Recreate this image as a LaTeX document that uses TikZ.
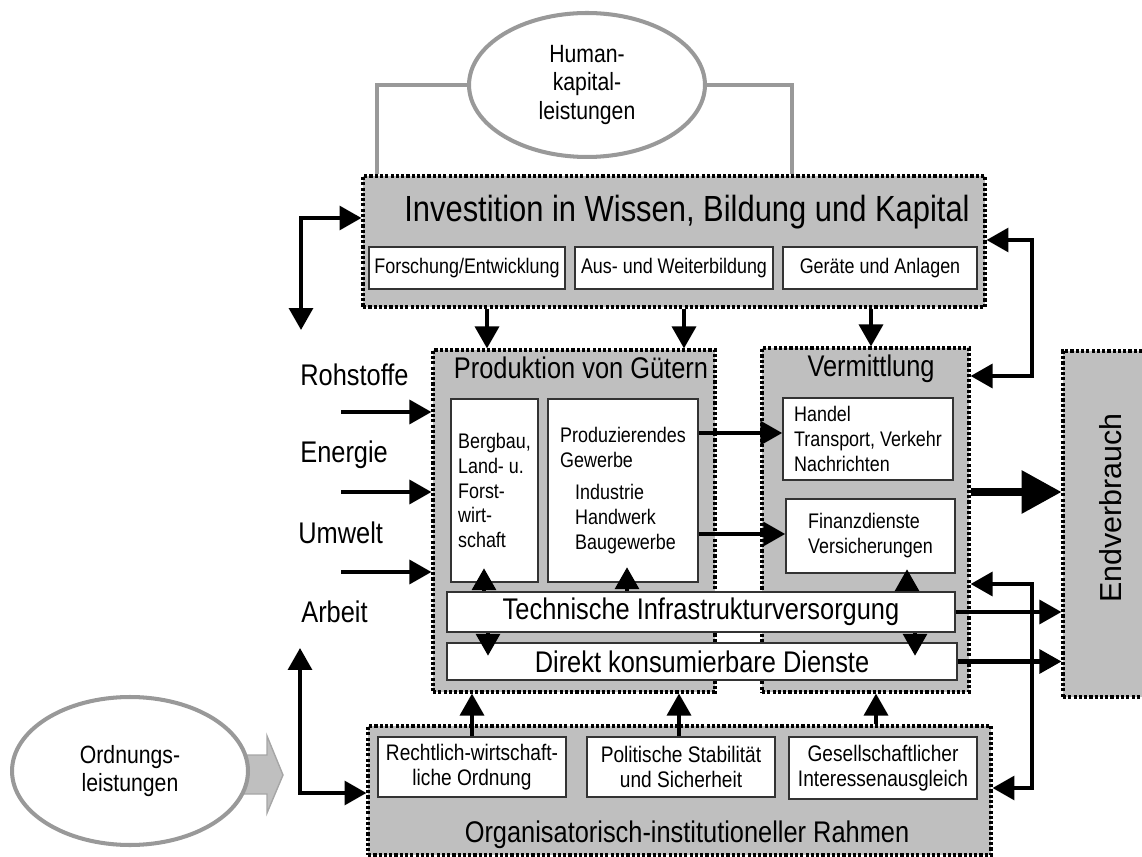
\documentclass[tikz,border=0pt]{standalone}
\usepackage{fontspec}
\setmainfont{Liberation Sans}[FakeStretch=0.85]
\newfontfamily\widefont{Liberation Sans}
\usetikzlibrary{arrows.meta,shapes.geometric}

\begin{document}
\begin{tikzpicture}[x=0.02cm,y=-0.02cm,>={Triangle[length=12.5pt,width=13.5pt]},
  frame node/.style={draw,fill=black!25,line width=1.8pt,dash pattern=on 1.8pt off 1.2pt,inner sep=0pt},
  box node/.style={draw=black!80,fill=white,line width=0.9pt,inner sep=0pt,align=center,font=\fontsize{12pt}{14.2pt}\selectfont},
  order node/.style={box node,font=\fontsize{12.8pt}{14.2pt}\selectfont},
  bar node/.style={box node,font=\fontsize{17pt}{19pt}\selectfont},
  head node/.style={inner sep=0pt,font=\fontsize{17pt}{19pt}\selectfont},
  oval node/.style={ellipse,draw=black!40,line width=2.3pt,fill=white,inner sep=0pt,align=center,font=\fontsize{14.2pt}{16.4pt}\selectfont},
  flow/.style={->,line width=2.3pt},
  both/.style={<->,line width=2.3pt},
  big flow/.style={-{Triangle[length=22.7pt,width=23.8pt]},line width=4pt},
  gray line/.style={draw=black!40,line width=2.3pt}]
  \useasboundingbox (0,0) rectangle (1142,857);

  % Investition
  \node[frame node,minimum width=12.44cm,minimum height=2.62cm] (inv) at (674,241.5) {};
  \node[head node,font=\fontsize{20.7pt}{23pt}\selectfont] (invtitle) at (687,212) {Investition in Wissen, Bildung und Kapital};
  \node[box node,minimum width=3.92cm,minimum height=0.84cm] (fe) at (467,268) {Forschung/Entwicklung};
  \node[box node,minimum width=3.96cm,minimum height=0.84cm] (aw) at (674,268) {Aus- und Weiterbildung};
  \node[box node,minimum width=3.88cm,minimum height=0.84cm] (ga) at (880,268) {Geräte und Anlagen};

  \node[oval node,minimum width=4.72cm,minimum height=2.88cm] (hk) at (587,85) {Human-\\kapital-\\leistungen};
  \draw[gray line] (hk.west) -| (inv.north -| 377,0);
  \draw[gray line] (hk.east) -| (inv.north -| 792,0);

  % Produktion, Vermittlung, Endverbrauch
  \node[frame node,minimum width=5.64cm,minimum height=6.84cm] (prod) at (574,521) {};
  \node[head node] (prodtitle) at (581,368) {Produktion von Gütern};
  \node[frame node,minimum width=4.14cm,minimum height=6.88cm] (verm) at (865.5,520) {};
  \node[head node] (vermtitle) at (871,369) {Vermittlung};
  \node[frame node,minimum width=1.76cm,minimum height=6.92cm] (end) at (1107,524) {};
  \node[head node,font=\widefont\fontsize{17.3pt}{19pt}\selectfont,rotate=90] (endtitle) at (1111,508) {Endverbrauch};

  \node[box node,align=left,minimum width=1.74cm,minimum height=3.66cm] (berg) at (494.5,490.5) {Bergbau,\\Land- u.\\Forst-\\wirt-\\schaft};
  \node[box node,align=left,minimum width=3.0cm,minimum height=3.66cm] (pg) at (623,490.5)
    {Produzierendes\\Gewerbe\\[4pt]\hspace*{0.3cm}Industrie\\\hspace*{0.3cm}Handwerk\\\hspace*{0.3cm}Baugewerbe};
  \node[box node,align=left,minimum width=3.4cm,minimum height=1.64cm] (hv) at (868,439) {Handel\\Transport, Verkehr\\Nachrichten};
  \node[box node,align=left,minimum width=3.38cm,minimum height=1.48cm] (fv) at (870.5,536) {Finanzdienste\\Versicherungen};
  \node[bar node,minimum width=10.16cm,minimum height=0.8cm] (tech) at (701,612) {Technische Infrastrukturversorgung};
  \node[bar node,minimum width=10.2cm,minimum height=0.74cm] (dir) at (702,661.5) {Direkt konsumierbare Dienste};

  % Rahmen
  \node[frame node,minimum width=12.46cm,minimum height=2.58cm] (org) at (679.5,790.5) {};
  \node[head node] (orgtitle) at (687,835) {Organisatorisch-institutioneller Rahmen};
  \node[order node,minimum width=3.76cm,minimum height=1.2cm] (rw) at (472,767) {Rechtlich-wirtschaft-\\liche Ordnung};
  \node[order node,minimum width=3.76cm,minimum height=1.2cm] (ps) at (681,767) {Politische Stabilität\\und Sicherheit};
  \node[order node,minimum width=3.76cm,minimum height=1.24cm] (gi) at (883,768) {Gesellschaftlicher\\Interessenausgleich};

  \fill[black!25,draw=black!35,line width=0.8pt] (238,755) -- (267,755) -- (267,736) -- (283,775) -- (267,813) -- (267,794) -- (238,794) -- cycle;
  \node[oval node,minimum width=4.72cm,minimum height=2.96cm] (ord) at (130,771) {Ordnungs-\\leistungen};

  % Faktoren
  \node[head node,anchor=west] (rohstoffe) at (300,375) {Rohstoffe};
  \node[head node,anchor=west] (energie) at (300,455) {Energie};
  \node[head node,anchor=west] (umwelt) at (298,533) {Umwelt};
  \node[head node,anchor=west] (arbeit) at (301,612) {Arbeit};
  \coordinate (rsin) at (341,412);
  \coordinate (enin) at (341,492);
  \coordinate (uwin) at (341,572);
  \draw[flow] (rsin) -- (prod.west |- rsin);
  \draw[flow] (enin) -- (prod.west |- enin);
  \draw[flow] (uwin) -- (prod.west |- uwin);

  \coordinate (invlk) at (301,330);
  \draw[both] (invlk) |- (inv.west |- 0,218);
  \draw[both] (inv.east |- 0,240) -| (1032,376) -- (verm.east |- 0,376);
  \coordinate (arbk) at (300,648);
  \draw[both] (arbk) |- (org.west |- 0,793);
  \draw[both] (verm.east |- 0,584) -| (1032,788) -- (org.east |- 0,788);

  \draw[flow] (inv.south -| 487,0) -- (prod.north -| 487,0);
  \draw[flow] (inv.south -| 684,0) -- (prod.north -| 684,0);
  \draw[flow] (inv.south -| 871,0) -- (verm.north -| 871,0);

  \draw[flow] (pg.east |- 0,433) -- (hv.west |- 0,433);
  \draw[flow] (pg.east |- 0,534) -- (fv.west |- 0,534);
  \draw[big flow] (verm.east |- 0,492) -- (end.west |- 0,492);
  \draw[flow] (tech.east) -- (end.west |- tech.east);
  \draw[flow] (dir.east) -- (end.west |- dir.east);

  \draw[flow] (tech.north -| 484,0) -- ++(0,-23);
  \draw[flow] (tech.south -| 488,0) -- ++(0,23);
  \draw[flow] (tech.north -| 627,0) -- ++(0,-24);
  \draw[flow] (tech.north -| 907,0) -- ++(0,-22);
  \draw[flow] (tech.south -| 915,0) -- ++(0,23);

  \draw[flow] (rw.north -| 472,0) -- (prod.south -| 472,0);
  \draw[flow] (ps.north -| 679,0) -- (prod.south -| 679,0);
  \draw[flow] (org.north -| 876,0) -- (verm.south -| 876,0);
\end{tikzpicture}
\end{document}
